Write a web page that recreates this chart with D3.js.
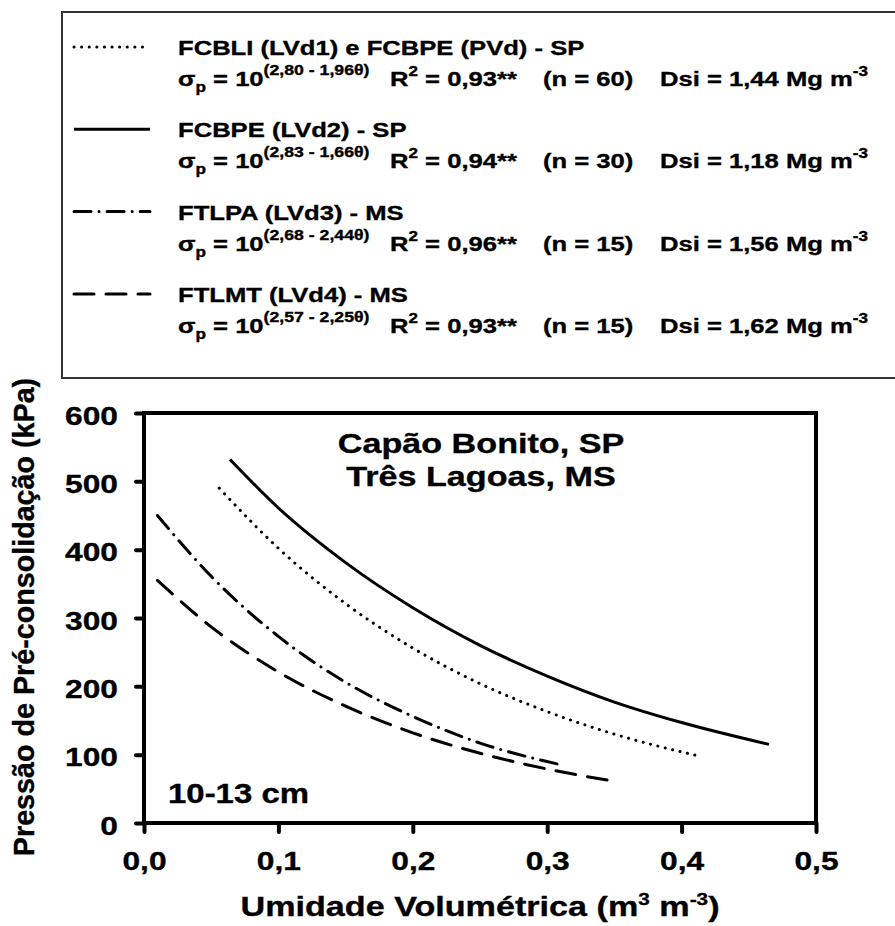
<!DOCTYPE html>
<html>
<head>
<meta charset="utf-8">
<script src="https://cdn.jsdelivr.net/npm/d3@7/dist/d3.min.js"></script>
<style>
  html, body { margin: 0; padding: 0; background: #fff; }
  svg { display: block; }
  text { font-family: "Liberation Sans", Arial, sans-serif; font-weight: bold; fill: #000;
         stroke: #000; stroke-width: 0.35px; }
</style>
</head>
<body>
<svg id="chart" width="895" height="926"></svg>
<script>
// ── Data ────────────────────────────────────────────────────────────────────
var seriesNames = ['FCBLI (LVd1) e FCBPE (PVd) - SP', 'FCBPE (LVd2) - SP', 'FTLPA (LVd3) - MS', 'FTLMT (LVd4) - MS'];
var coefA = ['2,80', '2,83', '2,68', '2,57'];
var coefB = ['1,96', '1,66', '2,44', '2,25'];
var r2Values = ['0,93', '0,94', '0,96', '0,93'];
var nValues = [60, 30, 15, 15];
var dsiValues = ['1,44', '1,18', '1,56', '1,62'];
var lineStyles = ['dot', 'solid', 'dashdot', 'dash'];

// moisture (m3 m-3) and pre-consolidation pressure (kPa)
var thetaLVd1 = [0.056, 0.10, 0.15, 0.20, 0.25, 0.30, 0.35, 0.415];
var sigmaLVd1 = [490, 402, 321, 256, 204, 163, 130, 97];
var thetaLVd2 = [0.064, 0.10, 0.15, 0.20, 0.25, 0.30, 0.35, 0.40, 0.465];
var sigmaLVd2 = [532, 461, 381, 315, 260, 215, 177, 147, 115];
var thetaLVd3 = [0.01, 0.05, 0.10, 0.15, 0.20, 0.25, 0.313];
var sigmaLVd3 = [450, 361, 273, 206, 156, 117, 84];
var thetaLVd4 = [0.01, 0.05, 0.10, 0.15, 0.20, 0.25, 0.30, 0.35];
var sigmaLVd4 = [355, 287, 221, 171, 132, 102, 79, 61];

var xTicks = [0, 0.1, 0.2, 0.3, 0.4, 0.5];
var yTicks = [0, 100, 200, 300, 400, 500, 600];

var curves = [
  { theta: thetaLVd1, sigma: sigmaLVd1 },
  { theta: thetaLVd2, sigma: sigmaLVd2 },
  { theta: thetaLVd3, sigma: sigmaLVd3 },
  { theta: thetaLVd4, sigma: sigmaLVd4 }
];

// ── Setup ───────────────────────────────────────────────────────────────────
var SX = 1.22;   // text in the original is horizontally stretched
var svg = d3.select('#chart');

var dashes = { dot: '0.1 7.5', solid: null, dashdot: '17 8 0.1 8', dash: '20 12' };

function stext(parent, x, y, size, anchor) {
  return parent.append('text')
    .attr('transform', 'translate(' + x + ',' + y + ') scale(' + SX + ',1)')
    .attr('font-size', size)
    .attr('text-anchor', anchor || 'start');
}

// ── Legend ──────────────────────────────────────────────────────────────────
var legend = svg.append('g');
legend.append('rect')
  .attr('x', 62).attr('y', 12).attr('width', 840).attr('height', 366)
  .attr('fill', '#fff').attr('stroke', '#333').attr('stroke-width', 2);

var rowStep = 82.3;
seriesNames.forEach(function (name, i) {
  var ty = 55 + i * rowStep;
  var ey = 86 + i * rowStep;

  legend.append('line')
    .attr('x1', 74).attr('x2', 150).attr('y1', ty - 8).attr('y2', ty - 8)
    .attr('stroke', '#000').attr('stroke-width', 3)
    .attr('stroke-linecap', lineStyles[i] === 'solid' ? 'butt' : 'round')
    .attr('stroke-dasharray', dashes[lineStyles[i]]);

  stext(legend, 178, ty, 21).text(name);

  var eq = stext(legend, 178, ey, 21);
  eq.append('tspan').text('σ');
  eq.append('tspan').attr('font-size', 14).attr('dy', 6).text('p');
  eq.append('tspan').attr('dy', -6).text(' = 10');
  eq.append('tspan').attr('font-size', 14.5).attr('dy', -11)
    .text('(' + coefA[i] + ' - ' + coefB[i] + 'θ)');

  var r = stext(legend, 390, ey, 21);
  r.append('tspan').text('R');
  r.append('tspan').attr('font-size', 14).attr('dy', -10).text('2');
  r.append('tspan').attr('dy', 10).text(' = ' + r2Values[i] + '**');

  stext(legend, 543, ey, 21).text('(n = ' + nValues[i] + ')');

  var d = stext(legend, 660, ey, 21);
  d.append('tspan').text('Dsi = ' + dsiValues[i] + ' Mg m');
  d.append('tspan').attr('font-size', 14).attr('dy', -10).text('-3');
});

// ── Plot ────────────────────────────────────────────────────────────────────
var x = d3.scaleLinear().domain([0, 0.5]).range([144, 816]);
var y = d3.scaleLinear().domain([0, 600]).range([823, 413]);

var fmt = function (v) { return d3.format('.1f')(v).replace('.', ','); };

var line = d3.line()
  .x(function (d) { return x(d[0]); })
  .y(function (d) { return y(d[1]); })
  .curve(d3.curveMonotoneX);

var plot = svg.append('g');
curves.forEach(function (c, i) {
  var pts = c.theta.map(function (t, k) { return [t, c.sigma[k]]; });
  plot.append('path')
    .attr('d', line(pts))
    .attr('fill', 'none').attr('stroke', '#000').attr('stroke-width', 3)
    .attr('stroke-linecap', lineStyles[i] === 'solid' ? 'butt' : 'round')
    .attr('stroke-dasharray', dashes[lineStyles[i]]);
});

// frame
svg.append('rect')
  .attr('x', x(0)).attr('y', y(600))
  .attr('width', x(0.5) - x(0)).attr('height', y(0) - y(600))
  .attr('fill', 'none').attr('stroke', '#000').attr('stroke-width', 4);

// axes
var yAxis = svg.append('g').attr('transform', 'translate(' + x(0) + ',0)')
  .call(d3.axisLeft(y).tickValues(yTicks).tickSize(8).tickSizeOuter(0).tickFormat(d3.format('d')));
var xAxis = svg.append('g').attr('transform', 'translate(0,' + y(0) + ')')
  .call(d3.axisBottom(x).tickValues(xTicks).tickSize(9).tickSizeOuter(0).tickFormat(fmt));

[yAxis, xAxis].forEach(function (ax) {
  ax.select('.domain').remove();
  ax.selectAll('.tick line').attr('stroke', '#000').attr('stroke-width', 4).attr('stroke-linecap', 'round');
  ax.selectAll('.tick text')
    .attr('font-family', null).attr('fill', '#000')
    .attr('font-size', 26);
});
yAxis.selectAll('.tick text')
  .attr('x', null).attr('dy', null)
  .attr('transform', 'translate(-26,11) scale(' + SX + ',1)');
xAxis.selectAll('.tick text')
  .attr('y', null).attr('dy', null)
  .attr('transform', 'translate(0,47) scale(' + SX + ',1)');

// axis titles
var xt = stext(svg, 480, 916, 28, 'middle');
xt.append('tspan').text('Umidade Volumétrica (m');
xt.append('tspan').attr('font-size', 17).attr('dy', -11).text('3');
xt.append('tspan').attr('dy', 11).text(' m');
xt.append('tspan').attr('font-size', 17).attr('dy', -11).text('-3');
xt.append('tspan').attr('dy', 11).text(')');

svg.append('text')
  .attr('transform', 'translate(34,617) rotate(-90)')
  .attr('text-anchor', 'middle')
  .attr('font-size', 28.7)
  .text('Pressão de Pré-consolidação (kPa)');

// annotations
stext(svg, 168, 803, 27).text('10-13 cm');
stext(svg, 481, 453, 28, 'middle').text('Capão Bonito, SP');
stext(svg, 481, 486, 28, 'middle').text('Três Lagoas, MS');
</script>
</body>
</html>
